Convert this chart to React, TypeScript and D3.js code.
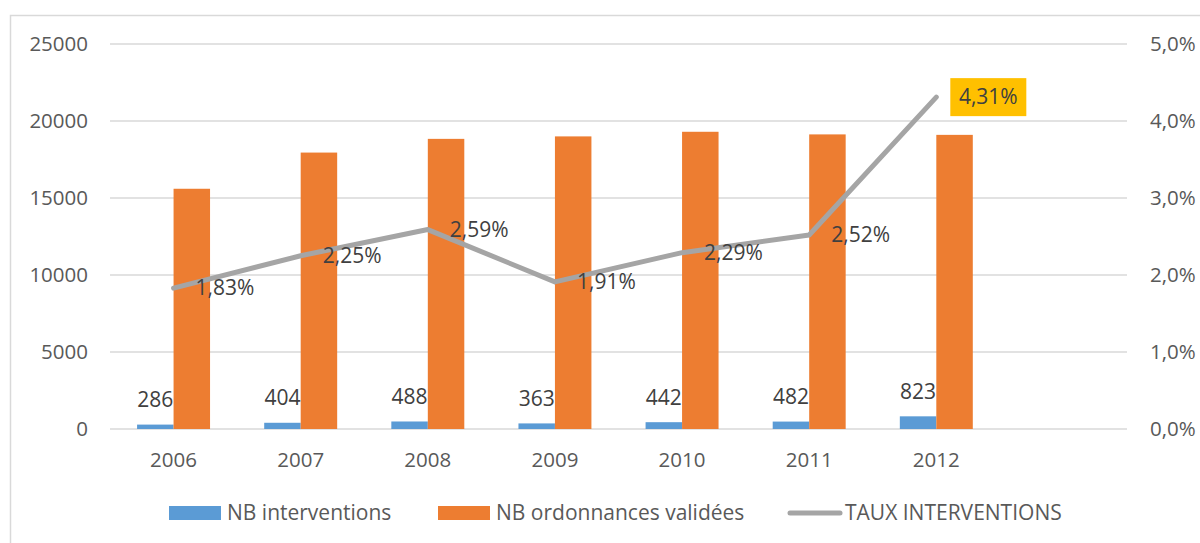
import React from 'react';
import * as d3 from 'd3';

const years = ['2006', '2007', '2008', '2009', '2010', '2011', '2012'];
const interventions = [286, 404, 488, 363, 442, 482, 823];
const ordonnances = [15600, 17950, 18840, 19000, 19300, 19130, 19100];
const taux = [1.83, 2.25, 2.59, 1.91, 2.29, 2.52, 4.31];
const leftTicks = [0, 5000, 10000, 15000, 20000, 25000];
const rightTicks = [0, 1, 2, 3, 4, 5];

const FONT = 'Open Sans, sans-serif';
const AXIS_COLOR = '#595959';
const LABEL_COLOR = '#404040';
const BLUE = '#5b9bd5';
const ORANGE = '#ed7d31';
const GREY = '#a5a5a5';

export default function App() {
  const width = 1200;
  const height = 543;
  const margin = { left: 110, right: 73, top: 44, bottom: 114 };
  const innerH = height - margin.top - margin.bottom;

  // 8 slots: the last one is left empty, like the original
  const x = d3.scaleBand<string>()
    .domain([...years, ''])
    .range([margin.left, width - margin.right]);
  const bw = x.bandwidth();
  const barW = bw * 0.287;

  const yL = d3.scaleLinear().domain([0, 25000]).range([margin.top + innerH, margin.top]);
  const yR = d3.scaleLinear().domain([0, 5]).range([margin.top + innerH, margin.top]);

  const line = d3.line<number>()
    .x((_, i) => (x(years[i]) as number) + bw / 2)
    .y(d => yR(d));

  const fmtPct = (v: number) => v.toFixed(2).replace('.', ',') + '%';

  return (
    <div style={{ position: 'absolute', left: 0, top: 0 }}>
      <svg width={width} height={height} style={{ fontFamily: FONT, display: 'block' }}>
        <rect x={0} y={0} width={width} height={height} fill="#fff" />
        <rect x={10.5} y={15.5} width={width + 20} height={height + 20} fill="none" stroke="#d9d9d9" strokeWidth={1.5} />

        {/* grid */}
        {leftTicks.map(t => (
          <line key={t} x1={margin.left} x2={width - margin.right} y1={yL(t)} y2={yL(t)} stroke="#d9d9d9" strokeWidth={1.5} />
        ))}

        {/* left axis labels */}
        {leftTicks.map(t => (
          <text key={t} x={88} y={yL(t)} dy="0.35em" textAnchor="end" fontSize={20.5} fill={AXIS_COLOR}>{t}</text>
        ))}
        {/* right axis labels */}
        {rightTicks.map(t => (
          <text key={t} x={1150} y={yR(t)} dy="0.35em" fontSize={20.5} fill={AXIS_COLOR}>{t.toFixed(1).replace('.', ',') + '%'}</text>
        ))}

        {/* x labels */}
        {years.map(yr => (
          <text key={yr} x={(x(yr) as number) + bw / 2} y={460} dy="0.35em" textAnchor="middle" fontSize={20.5} fill={AXIS_COLOR}>{yr}</text>
        ))}

        {/* bars */}
        {years.map((yr, i) => {
          const cx = (x(yr) as number) + bw / 2;
          return (
            <g key={yr}>
              <rect x={cx - barW} y={yL(interventions[i])} width={barW} height={yL(0) - yL(interventions[i])} fill={BLUE} />
              <rect x={cx} y={yL(ordonnances[i])} width={barW} height={yL(0) - yL(ordonnances[i])} fill={ORANGE} />
              <text x={cx - barW / 2} y={yL(interventions[i]) - 25} dy="0.35em" textAnchor="middle" fontSize={21} fill={LABEL_COLOR}>{interventions[i]}</text>
            </g>
          );
        })}

        {/* rate line */}
        <path d={line(taux) as string} fill="none" stroke={GREY} strokeWidth={5} strokeLinecap="round" strokeLinejoin="round" />

        {taux.map((v, i) => {
          const px = (x(years[i]) as number) + bw / 2 + 22;
          const py = yR(v);
          const last = i === taux.length - 1;
          return (
            <g key={i}>
              {last && <rect x={px - 8} y={py - 19} width={76} height={38} fill="#ffc000" />}
              <text x={last ? px + 30 : px} y={py} dy="0.35em" textAnchor={last ? 'middle' : 'start'} fontSize={21} fill={LABEL_COLOR}>{fmtPct(v)}</text>
            </g>
          );
        })}

        {/* legend */}
        <rect x={169} y={506} width={52} height={14} fill={BLUE} />
        <text x={227} y={513} dy="0.35em" fontSize={21} fill={AXIS_COLOR}>NB interventions</text>
        <rect x={438} y={506} width={52} height={14} fill={ORANGE} />
        <text x={496} y={513} dy="0.35em" fontSize={21} fill={AXIS_COLOR}>NB ordonnances validées</text>
        <line x1={790} x2={840} y1={513} y2={513} stroke={GREY} strokeWidth={5} strokeLinecap="round" />
        <text x={845} y={513} dy="0.35em" fontSize={21} fill={AXIS_COLOR}>TAUX INTERVENTIONS</text>
      </svg>
    </div>
  );
}
